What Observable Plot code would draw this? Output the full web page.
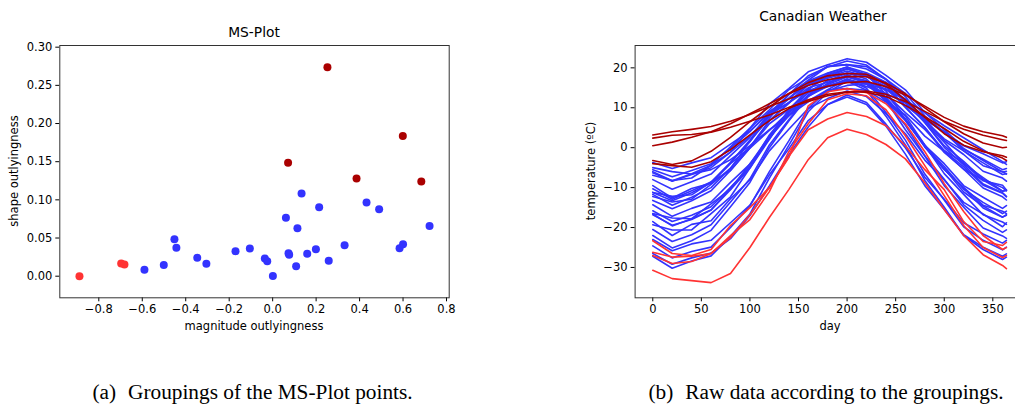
<!DOCTYPE html>
<html><head><meta charset="utf-8">
<script src="https://cdn.jsdelivr.net/npm/d3@7"></script>
<script src="https://cdn.jsdelivr.net/npm/@observablehq/plot@0.6"></script>
<style>
html,body{margin:0;padding:0;background:#fff;}
#page{position:relative;width:1015px;height:406px;overflow:hidden;background:#fff;font-family:"DejaVu Sans",sans-serif;}
.abs{position:absolute;white-space:nowrap;line-height:1;}
.title{font-size:13.8px;color:#000;transform:translate(-50%,-50%);}
.lab{font-size:11.5px;color:#000;transform:translate(-50%,-50%);}
.ylab{font-size:11.5px;color:#000;transform:translate(-50%,-50%) rotate(-90deg);}
.cap{font-family:"Liberation Serif",serif;font-size:21.3px;color:#000;transform:translate(-50%,-50%);}
.cap .tag{display:inline-block;margin-right:12px;}
.panel{position:absolute;top:0;}
</style></head><body><div id="page"></div>
<script>
// ---------- data ----------
const days = [0,20,40,60,80,100,120,140,160,180,200,220,240,260,280,300,320,340,360,364];

const blueTemps = [
  [-3.7,-5.2,-3.8,-2.5,0.9,4.2,8.6,11.3,14.4,15.6,16.7,16.0,13.6,11.2,7.0,4.1,0.5,-1.5,-3.8,-3.5],
  [-5.5,-7.3,-5.7,-4.0,-0.1,4.0,9.1,12.3,16.0,17.4,18.7,17.9,15.1,12.2,7.2,3.8,-0.4,-2.9,-5.5,-5.2],
  [-5.0,-6.0,-6.6,-5.5,-3.0,0.5,4.5,8.0,11.5,14.2,15.6,16.0,14.5,12.0,8.8,5.5,2.5,-0.5,-3.5,-4.2],
  [-6.3,-8.4,-6.7,-5.0,-1.1,2.9,8.1,11.3,15.0,16.4,17.8,16.5,14.7,10.6,6.8,2.2,-0.8,-4.5,-6.0,-6.6],
  [-8.0,-10.4,-8.5,-6.6,-2.0,2.6,8.6,12.4,16.6,18.3,19.8,18.4,16.3,11.5,7.1,1.8,-1.7,-5.9,-7.6,-8.4],
  [-6.0,-8.3,-6.5,-4.4,0.2,4.9,10.9,14.8,19.0,20.8,22.3,21.4,18.1,14.5,8.8,4.6,-0.2,-3.2,-6.1,-5.9],
  [-6.9,-8.2,-7.6,-4.4,-1.1,4.8,9.5,14.5,17.5,20.4,20.8,20.3,17.2,13.6,8.0,3.9,-0.8,-3.8,-6.7,-6.5],
  [-10.3,-12.9,-10.8,-8.6,-3.7,1.5,8.0,12.2,16.7,18.7,20.2,18.8,16.4,11.3,6.3,0.5,-3.4,-7.9,-10.0,-10.8],
  [-11.2,-13.3,-11.3,-8.8,-3.7,1.9,8.7,13.3,18.0,20.2,21.7,20.7,17.1,12.8,6.4,1.4,-4.0,-7.5,-10.9,-10.6],
  [-12.2,-13.6,-12.9,-9.2,-5.2,1.7,7.4,13.3,16.9,20.3,20.8,19.7,17.1,11.6,6.3,0.1,-4.3,-9.1,-11.3,-12.2],
  [-11.7,-14.4,-12.4,-10.0,-5.1,0.2,6.8,11.1,15.7,17.7,19.2,17.8,15.3,10.1,5.1,-0.8,-4.8,-9.4,-11.4,-12.3],
  [-13.2,-15.3,-13.3,-10.8,-5.7,-0.1,6.7,11.3,16.0,18.2,19.7,18.3,15.7,10.2,5.0,-1.2,-5.4,-10.1,-12.3,-13.1],
  [-9.5,-12.6,-10.2,-8.9,-4.0,0.1,6.0,9.6,13.7,15.3,16.8,15.3,13.4,8.8,4.6,-0.7,-3.8,-8.3,-9.4,-10.6],
  [-16.5,-17.6,-17.8,-14.1,-10.4,-4.0,2.2,8.9,13.0,16.9,17.8,16.8,12.3,7.1,0.4,-4.7,-10.4,-13.7,-16.5,-15.9],
  [-16.8,-19.4,-18.0,-15.6,-10.5,-5.1,2.7,8.5,13.9,16.7,18.7,17.2,12.6,7.2,0.2,-5.2,-11.1,-14.6,-17.4,-16.9],
  [-15.8,-18.5,-16.9,-14.8,-9.9,-4.8,2.5,8.0,13.2,15.8,17.7,16.3,11.9,6.8,0.2,-5.5,-9.9,-14.4,-15.9,-16.5],
  [-14.3,-17.2,-15.2,-13.6,-8.7,-4.1,2.9,8.0,12.9,15.4,17.2,15.9,11.7,6.9,0.6,-4.0,-9.5,-12.4,-15.2,-14.5],
  [-11.2,-12.2,-11.8,-8.6,-5.7,-0.1,4.3,9.0,11.7,14.5,14.8,14.4,11.4,8.2,2.9,-0.9,-5.4,-8.1,-10.9,-10.7],
  [-16.6,-19.6,-17.8,-15.6,-10.1,-4.7,3.2,9.2,14.8,17.7,19.8,18.2,13.4,7.9,0.7,-5.4,-10.2,-15.1,-17.4,-16.8],
  [-19.3,-20.6,-20.6,-16.5,-12.3,-5.1,2.1,9.6,14.4,18.6,20.2,18.1,14.2,7.0,0.6,-6.5,-11.7,-16.8,-18.6,-19.2],
  [-20.5,-23.5,-21.8,-19.3,-13.6,-7.8,0.7,7.0,13.0,16.1,18.2,16.6,11.6,5.6,-2.0,-7.9,-14.3,-18.2,-21.2,-20.6],
  [-22.0,-25.1,-23.3,-20.7,-14.8,-8.7,0.0,6.7,12.8,16.0,18.3,16.1,11.9,4.5,-2.1,-9.5,-14.9,-20.1,-22.1,-22.7],
  [-18.5,-22.0,-19.2,-18.3,-12.8,-8.1,-0.8,4.6,9.8,12.3,14.2,12.8,8.5,3.5,-3.1,-8.1,-13.7,-16.6,-19.8,-18.8],
  [-24.6,-27.6,-26.0,-24.9,-20.0,-14.6,-6.0,1.7,9.8,14.5,17.2,14.9,8.8,1.9,-6.6,-13.1,-19.8,-23.2,-25.6,-24.9],
  [-27.2,-30.2,-28.4,-27.1,-22.2,-16.6,-7.6,0.6,9.0,13.9,16.7,14.4,7.9,0.7,-8.2,-14.9,-22.0,-25.5,-28.0,-27.4],
  [-23.0,-25.8,-24.1,-23.2,-18.8,-14.4,-6.8,-0.3,6.8,10.8,13.2,11.3,5.9,0.0,-7.4,-12.9,-18.8,-21.6,-23.9,-23.2],
  [-26.5,-29.2,-27.6,-26.4,-22.8,-17.0,-9.6,-1.8,5.2,10.8,12.7,10.8,5.4,-1.6,-9.5,-15.5,-21.8,-24.9,-27.2,-26.6]
];

const lightRedTemps = [
  [-30.7,-32.8,-33.3,-33.8,-31.5,-25.0,-17.5,-10.5,-3.0,2.5,4.6,3.3,0.8,-2.8,-8.8,-15.5,-22.0,-26.8,-29.5,-30.3],
  [-26.2,-27.4,-27.2,-26.5,-22.5,-16.8,-10.0,-2.2,4.5,7.2,8.8,7.8,5.5,0.5,-5.5,-10.5,-18.5,-23.5,-24.5,-23.7],
  [-23.3,-26.5,-27.0,-25.5,-19.5,-15.0,-10.0,-2.5,10.5,14.0,14.8,13.8,11.0,6.0,-1.0,-9.0,-16.0,-22.0,-25.5,-25.0],
  [-27.0,-29.0,-28.5,-26.5,-22.0,-18.0,-11.0,-1.0,6.0,12.0,13.5,13.0,9.5,3.0,-4.5,-12.0,-19.5,-25.0,-27.5,-27.0]
];

const darkRedTemps = [
  [3.2,4.0,4.6,5.3,6.6,8.3,10.3,12.2,14.0,15.4,16.3,16.6,15.3,13.2,10.4,7.6,5.4,4.0,3.0,2.6],
  [2.4,3.1,3.3,3.9,5.1,6.6,8.2,10.1,11.6,13.0,13.9,14.2,13.4,11.6,9.1,6.6,4.6,3.1,2.0,1.8],
  [0.5,1.4,2.6,4.0,6.0,8.5,11.0,13.5,15.6,17.0,17.8,17.8,16.2,13.5,10.0,6.5,3.5,1.2,0.0,0.1],
  [-3.2,-4.2,-3.3,-0.9,2.6,6.5,10.2,13.6,16.3,18.0,18.6,18.4,16.0,12.0,7.6,3.5,0.6,-1.0,-2.0,-2.4],
  [-4.0,-4.5,-4.9,-3.5,-0.5,3.2,6.8,9.8,12.0,13.4,14.0,13.9,12.8,10.6,7.8,4.8,1.6,-0.8,-2.6,-3.2]
];

const blueMag   = [-0.590,-0.501,-0.452,-0.443,-0.347,-0.305,-0.171,-0.105,-0.036,-0.025,0.001,0.061,0.073,0.076,0.108,0.114,0.133,0.159,0.199,0.214,0.258,0.331,0.432,0.490,0.584,0.600,0.722];
const blueShape = [0.0083,0.0148,0.0485,0.0371,0.0240,0.0162,0.0328,0.0362,0.0231,0.0197,0.0004,0.0764,0.0301,0.0280,0.0131,0.0629,0.1083,0.0293,0.0354,0.0904,0.0201,0.0406,0.0965,0.0878,0.0367,0.0419,0.0659];
const lightRedMag   = [-0.889,-0.697,-0.682];
const lightRedShape = [0.0000,0.0166,0.0153];
const darkRedMag   = [0.252,0.071,0.386,0.599,0.684];
const darkRedShape = [0.2738,0.1485,0.1280,0.1838,0.1240];

const msXTicks = [-0.8,-0.6,-0.4,-0.2,0,0.2,0.4,0.6,0.8];
const msYTicks = [0,0.05,0.10,0.15,0.20,0.25,0.30];
const dayTicks = [0,50,100,150,200,250,300,350];
const tempTicks = [-30,-20,-10,0,10,20];

const BLUE = "#3333ff", LIGHTRED = "#ff3333", DARKRED = "#aa0000";

// ---------- build tables ----------
function pts(mag, shape) { return mag.map((m, i) => ({mag: m, shape: shape[i]})); }
function curves(temps, prefix) {
  const out = [];
  temps.forEach((row, k) => row.forEach((t, j) => out.push({id: prefix + k, day: days[j], temp: t})));
  return out;
}

const style = {fontFamily: "'DejaVu Sans', sans-serif", fontSize: "11.5px", color: "#000", background: "transparent", overflow: "visible"};

const left = Plot.plot({
  width: 460, height: 345,
  marginLeft: 59.3, marginRight: 11.3, marginTop: 45, marginBottom: 47.7,
  x: {domain: [-0.9795, 0.8124]},
  y: {domain: [-0.0283, 0.3022]},
  style,
  marks: [
    Plot.axisX(msXTicks, {tickFormat: d3.format(".1f"), tickSize: 4, tickPadding: 3.5, label: null}),
    Plot.axisY(msYTicks, {tickFormat: d3.format(".2f"), tickSize: 4, tickPadding: 3.5, label: null}),
    Plot.dot(pts(blueMag, blueShape), {x: "mag", y: "shape", r: 4, fill: BLUE, stroke: "none"}),
    Plot.dot(pts(lightRedMag, lightRedShape), {x: "mag", y: "shape", r: 4, fill: LIGHTRED, stroke: "none"}),
    Plot.dot(pts(darkRedMag, darkRedShape), {x: "mag", y: "shape", r: 4, fill: DARKRED, stroke: "none"}),
    Plot.frame({stroke: "#333", strokeWidth: 1})
  ]
});

const right = Plot.plot({
  width: 480, height: 345,
  marginLeft: 74.6, marginRight: 16.4, marginTop: 45, marginBottom: 47.7,
  x: {domain: [-18.2, 382.2]},
  y: {domain: [-37.6, 25.6]},
  style,
  marks: [
    Plot.axisX(dayTicks, {tickFormat: d3.format("d"), tickSize: 4, tickPadding: 3.5, label: null}),
    Plot.axisY(tempTicks, {tickFormat: d3.format("d"), tickSize: 4, tickPadding: 3.5, label: null}),
    Plot.line(curves(blueTemps, "b"), {x: "day", y: "temp", z: "id", stroke: BLUE, strokeWidth: 1.6}),
    Plot.line(curves(lightRedTemps, "l"), {x: "day", y: "temp", z: "id", stroke: LIGHTRED, strokeWidth: 1.6}),
    Plot.line(curves(darkRedTemps, "d"), {x: "day", y: "temp", z: "id", stroke: DARKRED, strokeWidth: 1.6}),
    Plot.frame({stroke: "#333", strokeWidth: 1})
  ]
});

const page = document.getElementById("page");
left.classList.add("panel"); left.style.left = "0px";
right.classList.add("panel"); right.style.left = "560px";
page.appendChild(left);
page.appendChild(right);

function addText(cls, txt, x, y) {
  const d = document.createElement("div");
  d.className = "abs " + cls;
  d.textContent = txt;
  d.style.left = x + "px";
  d.style.top = y + "px";
  page.appendChild(d);
  return d;
}
function addCaption(tag, txt, x, y) {
  const d = addText("cap", "", x, y);
  const s = document.createElement("span");
  s.className = "tag";
  s.textContent = tag;
  d.appendChild(s);
  d.appendChild(document.createTextNode(txt));
}
addText("title", "MS-Plot", 254, 33);
addText("title", "Canadian Weather", 823, 17);
addText("lab", "magnitude outlyingness", 254, 326.5);
addText("lab", "day", 830, 326.5);
addText("ylab", "shape outlyingness", 15, 171);
addText("ylab", "temperature (ºC)", 592, 171);
addCaption("(a)", "Groupings of the MS-Plot points.", 252.5, 392.5);
addCaption("(b)", "Raw data according to the groupings.", 826, 392.5);
</script></body></html>
